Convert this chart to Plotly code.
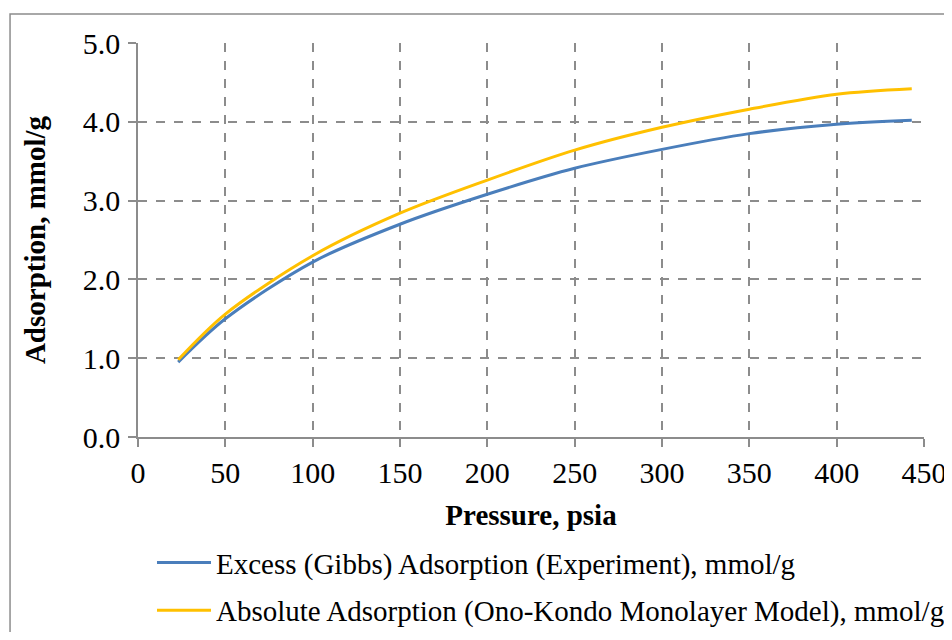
import plotly.graph_objects as go

pressure = [23, 50, 100, 150, 200, 250, 300, 350, 400, 443]
excess = [0.95, 1.50, 2.22, 2.70, 3.08, 3.41, 3.65, 3.85, 3.97, 4.02]
absolute = [0.98, 1.56, 2.30, 2.84, 3.26, 3.64, 3.93, 4.16, 4.35, 4.42]

x_ticks = [0, 50, 100, 150, 200, 250, 300, 350, 400, 450]
y_ticks = [0.0, 1.0, 2.0, 3.0, 4.0, 5.0]

names = ["Excess (Gibbs) Adsorption (Experiment), mmol/g",
         "Absolute Adsorption (Ono-Kondo Monolayer Model), mmol/g"]
colors = ["#4A7EBB", "#FFC000"]

FONT = "Liberation Serif, Times New Roman, serif"
GRID = "#8C8C8C"

fig = go.Figure()
for i, (ys, nm, c) in enumerate(zip([excess, absolute], names, colors)):
    fig.add_trace(go.Scatter(x=pressure, y=ys, mode="lines", name=nm,
                             legendgroup=str(i),
                             line=dict(color=c, width=3, shape="spline", smoothing=0.9)))

# page body has an 8px margin, so the figure is offset by 8px in the window
fig.update_layout(
    width=944, height=624,
    margin=dict(l=130, r=28, t=35, b=195, autoexpand=False),
    paper_bgcolor="white", plot_bgcolor="white",
    font=dict(family=FONT, size=30, color="black"),
    showlegend=True,
    legend=dict(x=0.0178, y=-0.254, xanchor="left", yanchor="top",
                font=dict(family=FONT, size=29, color="black"),
                itemwidth=54, tracegroupgap=7, traceorder="grouped",
                bgcolor="rgba(0,0,0,0)"),
    xaxis=dict(range=[0, 450], tickvals=x_ticks, ticktext=[str(v) for v in x_ticks],
               showgrid=True, gridcolor=GRID, griddash="dash", gridwidth=1.5,
               showline=True, linecolor=GRID, linewidth=1.5,
               ticks="outside", ticklen=8, tickcolor=GRID, tickwidth=1.5,
               ticklabeloverflow="allow",
               zeroline=False,
               title=dict(text="<b>Pressure, psia</b>", font=dict(family=FONT, size=29), standoff=17)),
    yaxis=dict(range=[0, 5], tickvals=y_ticks, ticktext=[f"{v:.1f}" for v in y_ticks],
               showgrid=True, gridcolor=GRID, griddash="dash", gridwidth=1.5,
               showline=True, linecolor=GRID, linewidth=1.5,
               ticks="outside", ticklen=8, tickcolor=GRID, tickwidth=1.5,
               ticklabelstandoff=2,
               zeroline=False,
               title=dict(text="<b>Adsorption, mmol/g</b>", font=dict(family=FONT, size=29), standoff=29)),
)

# outer chart border (extends past the right/bottom edges of the picture)
fig.add_shape(type="rect", xref="paper", yref="paper",
              x0=-0.1628, x1=2, y0=-2, y1=1.0736,
              line=dict(color="#8C8C8C", width=1.5), fillcolor="rgba(0,0,0,0)", layer="below")

fig.write_html("out.html")
